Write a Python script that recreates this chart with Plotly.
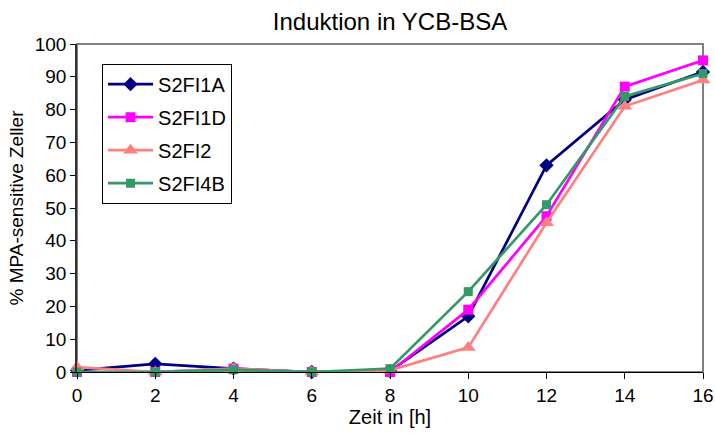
import plotly.graph_objects as go

hours = [0, 2, 4, 6, 8, 10, 12, 14, 16]
s2fi1a = [0.5, 2.5, 1, 0, 0.3, 17, 63, 83, 91.5]
s2fi1d = [0, 0, 1, 0, 0, 19, 47.5, 87, 95]
s2fi2 = [1.5, 0, 1, 0, 0.5, 7.5, 45.5, 81, 89]
s2fi4b = [0, 0, 0.7, 0, 1, 24.5, 51, 84, 91]

series = [
    ("S2FI1A", s2fi1a, "#000080", "diamond", 11),
    ("S2FI1D", s2fi1d, "#FF00FF", "square", 10),
    ("S2FI2", s2fi2, "#FF8080", "triangle-up", 13),
    ("S2FI4B", s2fi4b, "#339966", "square", 9),
]

fig = go.Figure()
for name, vals, col, sym, sz in series:
    fig.add_trace(go.Scatter(x=hours, y=vals, name=name, mode="lines+markers",
                             legendgroup=name,
                             line=dict(color=col, width=2.7),
                             marker=dict(symbol=sym, size=sz, color=col),
                             cliponaxis=False))

font = "Liberation Sans, Arial, sans-serif"
fig.update_layout(
    width=715, height=436,
    margin=dict(l=77, r=12, t=44, b=64),
    paper_bgcolor="white", plot_bgcolor="white",
    font=dict(family=font, size=19, color="black"),
    title=dict(text="Induktion in YCB-BSA", x=0.5, xref="paper", xanchor="center",
               y=0.95, yanchor="middle", font=dict(size=24)),
    showlegend=True,
    legend=dict(x=0.04, y=0.94, xanchor="left", yanchor="top",
                bordercolor="black", borderwidth=1, bgcolor="white",
                font=dict(size=20), tracegroupgap=4, itemwidth=45),
    xaxis=dict(range=[0, 16], tickvals=hours, ticks="outside", ticklen=6, tickcolor="black",
               showline=True, linecolor="black", linewidth=1, mirror=False,
               showgrid=False, zeroline=False, automargin=False,
               ticklabeloverflow="allow",
               title=dict(text="Zeit in [h]", font=dict(size=20), standoff=2)),
    yaxis=dict(range=[0, 100], dtick=10, ticks="outside", ticklen=5, tickcolor="black",
               showline=True, linecolor="#303030", linewidth=1.5,
               showgrid=False, zeroline=False, automargin=False,
               title=dict(text="% MPA-sensitive Zeller", font=dict(size=19), standoff=6)),
    shapes=[dict(type="rect", xref="paper", yref="paper", x0=0, y0=0, x1=1, y1=1,
                 line=dict(color="#808080", width=2), layer="below")],
)

fig.write_html("out.html")
